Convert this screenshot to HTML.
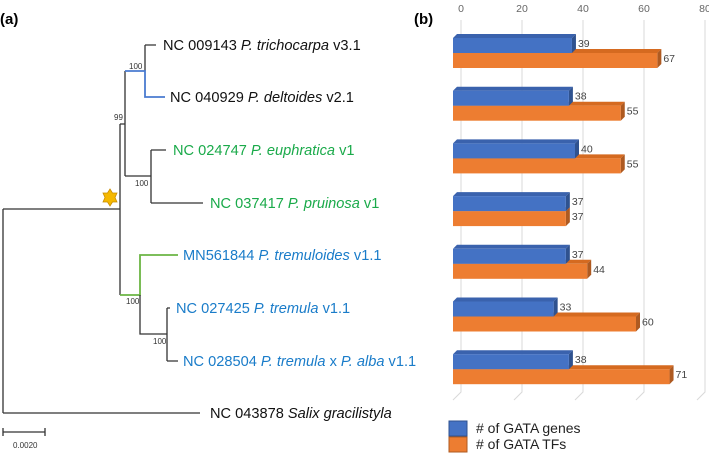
<!DOCTYPE html>
<html><head><meta charset="utf-8"><style>
body{margin:0;background:#fff;}
svg{display:block;font-family:"Liberation Sans",Arial,sans-serif;}
</style></head><body>
<svg width="709" height="458" viewBox="0 0 709 458">
<text x="0" y="24" font-size="15" font-weight="bold">(a)</text>
<text x="414" y="24" font-size="15" font-weight="bold">(b)</text>
<g stroke="#333" stroke-width="1.3" fill="none">
<path d="M3,209V413M3,209H120M3,413H200"/>
<path d="M120,124V295M120,124H125M125,71V176M125,176H151M151,150V203M151,150H166M151,203H203"/>
<path d="M145,45V71M145,45H156"/>
<path d="M125,71H145V97H165" stroke="#4a7bd0" stroke-width="1.8"/>
<path d="M120,295H140V255H178" stroke="#6bb544" stroke-width="1.8"/>
<path d="M140,295V334H167M167,308V361M167,308H170M167,361H178"/>
<path d="M3,432H45M3,428V436M45,428V436"/>
</g>
<g font-size="14.6">
<text x="163" y="50" fill="#111">NC 009143 <tspan font-style="italic">P. trichocarpa</tspan> v3.1</text>
<text x="170" y="102" fill="#111">NC 040929 <tspan font-style="italic">P. deltoides</tspan> v2.1</text>
<text x="173" y="155" fill="#1aaa4a">NC 024747 <tspan font-style="italic">P. euphratica</tspan> v1</text>
<text x="210" y="208" fill="#1aaa4a">NC 037417 <tspan font-style="italic">P. pruinosa</tspan> v1</text>
<text x="183" y="260" fill="#1a7cc9">MN561844 <tspan font-style="italic">P. tremuloides</tspan> v1.1</text>
<text x="176" y="313" fill="#1a7cc9">NC 027425 <tspan font-style="italic">P. tremula</tspan> v1.1</text>
<text x="183" y="366" fill="#1a7cc9">NC 028504 <tspan font-style="italic">P. tremula</tspan> x <tspan font-style="italic">P. alba</tspan> v1.1</text>
<text x="210" y="418" fill="#111">NC 043878 <tspan font-style="italic">Salix gracilistyla</tspan></text>
</g>
<g font-size="8" fill="#333">
<text x="129" y="69">100</text><text x="114" y="120">99</text><text x="135" y="186">100</text>
<text x="126" y="304">100</text><text x="153" y="344">100</text>
<text x="13" y="448">0.0020</text>
</g>
<polygon points="110,189 112.5,193 117,193 115,197.5 117,202 112.5,202 110,206 107.5,202 103,202 105,197.5 103,193 107.5,193" fill="#f5b800" stroke="#c98c00" stroke-width="0.8"/>
<g id="chart"></g>
<g>
<rect x="449" y="421" width="18" height="15" fill="#4472c4" stroke="#2f528f"/>
<text x="476" y="433" font-size="14" fill="#222"># of GATA genes</text>
<rect x="449" y="437" width="18" height="15" fill="#ed7d31" stroke="#ae5a21"/>
<text x="476" y="449" font-size="14" fill="#222"># of GATA TFs</text>
</g>
</svg>
<script>
const genes=[39,38,40,37,37,33,38];
const tfs=[67,55,55,37,44,60,71];
const ticks=[0,20,40,60,80];
const NS="http://www.w3.org/2000/svg";
const g=document.getElementById('chart');
function x(v){return 453+v*3.05;}
function el(t,a){const e=document.createElementNS(NS,t);for(const k in a)e.setAttribute(k,a[k]);g.appendChild(e);return e;}
ticks.forEach(t=>{
 const gx=x(t)+8;
 const l=el('path',{d:`M${gx},20V392L${gx-8},400`,stroke:'#d9d9d9',fill:'none'});
 
 
 const tx=el('text',{x:gx,y:12,'font-size':10.5,fill:'#666','text-anchor':'middle'});
 tx.textContent=t;
 
 
});
function bar(v,y,fc,tc,sc,name){
 const w=x(v)-453,d=4;
 const top=el('polygon',{points:`453,${y} ${453+d},${y-d} ${453+w+d},${y-d} ${453+w},${y}`,fill:tc});
 
 
 const side=el('polygon',{points:`${453+w},${y} ${453+w+d},${y-d} ${453+w+d},${y+15-d} ${453+w},${y+15}`,fill:sc});
 
 
 const r=el('rect',{x:453,y:y,width:w,height:15,fill:fc});
 
 
 const t=el('text',{x:453+w+d+2,y:y+9,'font-size':10.5,fill:'#444'});
 t.textContent=v;
 
 
}
genes.forEach((v,i)=>{
 const y=38+i*52.7;
 bar(tfs[i],y+15,'#ed7d31','#d56a20','#ae5a21','bar-tfs');
 bar(v,y,'#4472c4','#3a62ad','#2f528f','bar-genes');
});
</script>
</body></html>
